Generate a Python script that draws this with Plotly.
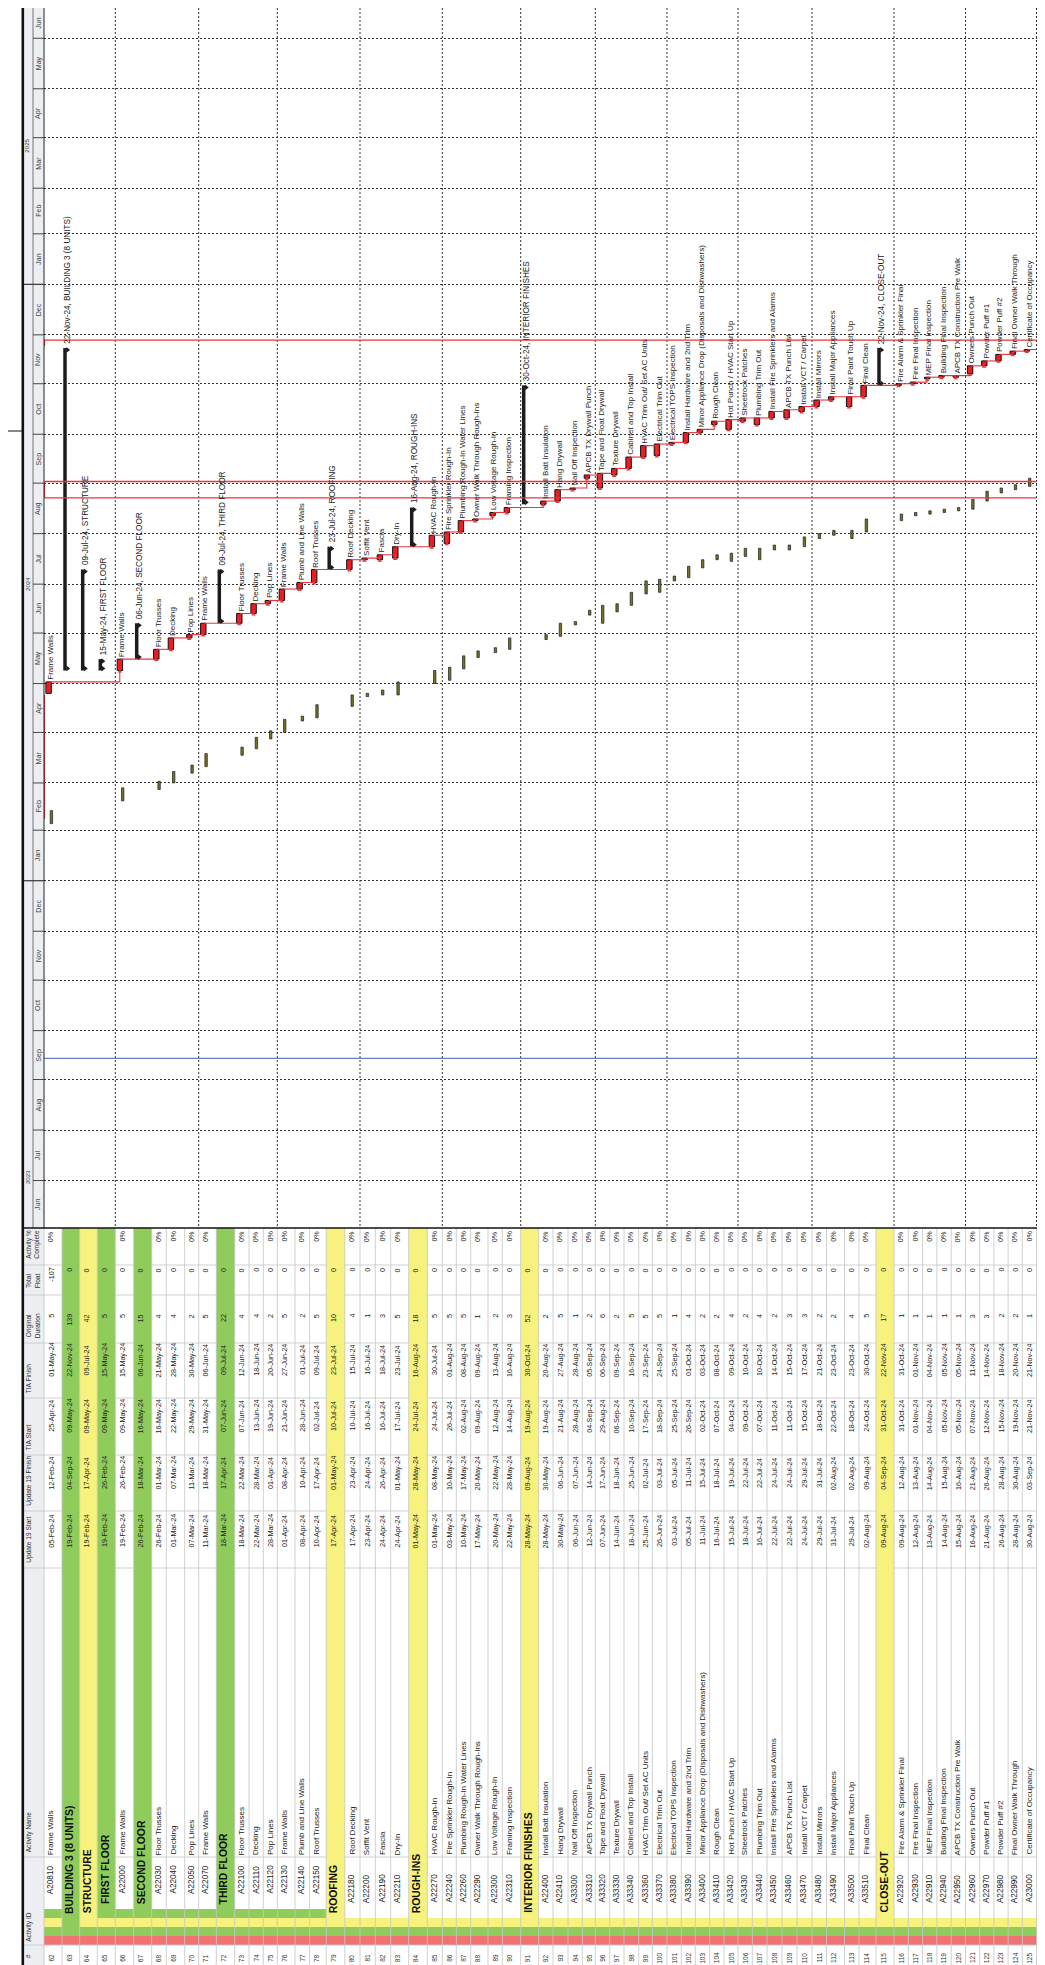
import plotly.graph_objects as go
from datetime import datetime, timedelta

# ------------------------------------------------------------------ data
ROW_NO = [62, 63, 64, 65, 66, 67, 68, 69, 70, 71, 72, 73, 74, 75, 76, 77, 78, 79, 80, 81,
          82, 83, 84, 85, 86, 87, 88, 89, 90, 91, 92, 93, 94, 95, 96, 97, 98, 99, 100, 101,
          102, 103, 104, 105, 106, 107, 108, 109, 110, 111, 112, 113, 114, 115, 116, 117,
          118, 119, 120, 121, 122, 123, 124, 125, 126]

ACT_ID = ["A20810", "", "", "", "A22000", "", "A22030", "A22040", "A22050", "A22070", "",
          "A22100", "A22110", "A22120", "A22130", "A22140", "A22150", "", "A22180", "A22200",
          "A22190", "A22210", "", "A22270", "A22240", "A22260", "A22290", "A22300", "A22310", "",
          "A22400", "A22410", "A33300", "A33310", "A33320", "A33330", "A33340", "A33360",
          "A33370", "A33380", "A33390", "A33400", "A33410", "A33420", "A33430", "A33440",
          "A33450", "A33460", "A33470", "A33480", "A33490", "A33500", "A33510", "", "A22920",
          "A22930", "A22910", "A22940", "A22950", "A22960", "A22970", "A22980", "A22990",
          "A23000", "A23010"]

ACT_NAME = ["Frame Walls", "BUILDING 3 (8 UNITS)", "STRUCTURE", "FIRST FLOOR", "Frame Walls",
            "SECOND FLOOR", "Floor Trusses", "Decking", "Pop Lines", "Frame Walls", "THIRD FLOOR",
            "Floor Trusses", "Decking", "Pop Lines", "Frame Walls", "Plumb and Line Walls",
            "Roof Trusses", "ROOFING", "Roof Decking", "Soffit Vent", "Fascia", "Dry-In",
            "ROUGH-INS", "HVAC Rough-In", "Fire Sprinkler Rough-In", "Plumbing Rough-In Water Lines",
            "Owner Walk Through Rough-Ins", "Low Voltage Rough-In", "Framing Inspection",
            "INTERIOR FINISHES", "Install Batt Insulation", "Hang Drywall", "Nail Off Inspection",
            "APCB TX Drywall Punch", "Tape and Float Drywall", "Texture Drywall",
            "Cabinet and Top Install", "HVAC Trim Out/ Set AC Units", "Electrical Trim Out",
            "Electrical TOPS Inspection", "Install Hardware and 2nd Trim",
            "Minor Appliance Drop (Disposals and Dishwashers)", "Rough Clean",
            "Hot Punch / HVAC Start Up", "Sheetrock Patches", "Plumbing Trim Out",
            "Install Fire Sprinklers and Alarms", "APCB TX Punch List", "Install VCT / Carpet",
            "Install Mirrors", "Install Major Appliances", "Final Paint Touch Up", "Final Clean",
            "CLOSE-OUT", "Fire Alarm & Sprinkler Final", "Fire Final Inspection",
            "MEP Final Inspection", "Building Final Inspection", "APCB TX Construction Pre Walk",
            "Owners Punch Out", "Powder Puff #1", "Powder Puff #2", "Final Owner Walk Through",
            "Certificate of Occupancy", "Owners Acceptance - Building Turnover"]

U19_START = ["05-Feb-24", "19-Feb-24", "19-Feb-24", "19-Feb-24", "19-Feb-24", "26-Feb-24",
             "26-Feb-24", "01-Mar-24", "07-Mar-24", "11-Mar-24", "18-Mar-24", "18-Mar-24",
             "22-Mar-24", "28-Mar-24", "01-Apr-24", "08-Apr-24", "10-Apr-24", "17-Apr-24",
             "17-Apr-24", "23-Apr-24", "24-Apr-24", "24-Apr-24", "01-May-24", "01-May-24",
             "03-May-24", "10-May-24", "17-May-24", "20-May-24", "22-May-24", "28-May-24",
             "28-May-24", "30-May-24", "06-Jun-24", "12-Jun-24", "07-Jun-24", "14-Jun-24",
             "18-Jun-24", "25-Jun-24", "26-Jun-24", "03-Jul-24", "05-Jul-24", "11-Jul-24",
             "16-Jul-24", "15-Jul-24", "18-Jul-24", "16-Jul-24", "22-Jul-24", "22-Jul-24",
             "24-Jul-24", "29-Jul-24", "31-Jul-24", "29-Jul-24", "02-Aug-24", "09-Aug-24",
             "09-Aug-24", "12-Aug-24", "13-Aug-24", "14-Aug-24", "15-Aug-24", "16-Aug-24",
             "21-Aug-24", "26-Aug-24", "28-Aug-24", "30-Aug-24", "03-Sep-24"]

U19_FINISH = ["12-Feb-24", "04-Sep-24", "17-Apr-24", "26-Feb-24", "26-Feb-24", "18-Mar-24",
              "01-Mar-24", "07-Mar-24", "11-Mar-24", "18-Mar-24", "17-Apr-24", "22-Mar-24",
              "28-Mar-24", "01-Apr-24", "08-Apr-24", "10-Apr-24", "17-Apr-24", "01-May-24",
              "23-Apr-24", "24-Apr-24", "26-Apr-24", "01-May-24", "28-May-24", "08-May-24",
              "10-May-24", "17-May-24", "20-May-24", "22-May-24", "28-May-24", "09-Aug-24",
              "30-May-24", "06-Jun-24", "07-Jun-24", "14-Jun-24", "17-Jun-24", "18-Jun-24",
              "25-Jun-24", "02-Jul-24", "03-Jul-24", "05-Jul-24", "11-Jul-24", "15-Jul-24",
              "18-Jul-24", "19-Jul-24", "22-Jul-24", "22-Jul-24", "24-Jul-24", "24-Jul-24",
              "29-Jul-24", "31-Jul-24", "02-Aug-24", "02-Aug-24", "09-Aug-24", "04-Sep-24",
              "12-Aug-24", "13-Aug-24", "14-Aug-24", "15-Aug-24", "16-Aug-24", "21-Aug-24",
              "26-Aug-24", "28-Aug-24", "30-Aug-24", "03-Sep-24", "04-Sep-24"]

TIA_START = ["25-Apr-24", "09-May-24", "09-May-24", "09-May-24", "09-May-24", "16-May-24",
             "16-May-24", "22-May-24", "29-May-24", "31-May-24", "07-Jun-24", "07-Jun-24",
             "13-Jun-24", "19-Jun-24", "21-Jun-24", "28-Jun-24", "02-Jul-24", "10-Jul-24",
             "10-Jul-24", "16-Jul-24", "16-Jul-24", "17-Jul-24", "24-Jul-24", "24-Jul-24",
             "26-Jul-24", "02-Aug-24", "09-Aug-24", "12-Aug-24", "14-Aug-24", "19-Aug-24",
             "19-Aug-24", "21-Aug-24", "28-Aug-24", "04-Sep-24", "29-Aug-24", "06-Sep-24",
             "10-Sep-24", "17-Sep-24", "18-Sep-24", "25-Sep-24", "26-Sep-24", "02-Oct-24",
             "07-Oct-24", "04-Oct-24", "09-Oct-24", "07-Oct-24", "11-Oct-24", "11-Oct-24",
             "15-Oct-24", "18-Oct-24", "22-Oct-24", "18-Oct-24", "24-Oct-24", "31-Oct-24",
             "31-Oct-24", "01-Nov-24", "04-Nov-24", "05-Nov-24", "05-Nov-24", "07-Nov-24",
             "12-Nov-24", "15-Nov-24", "19-Nov-24", "21-Nov-24", "22-Nov-24"]

TIA_FINISH = ["01-May-24", "22-Nov-24", "09-Jul-24", "15-May-24", "15-May-24", "06-Jun-24",
              "21-May-24", "28-May-24", "30-May-24", "06-Jun-24", "09-Jul-24", "12-Jun-24",
              "18-Jun-24", "20-Jun-24", "27-Jun-24", "01-Jul-24", "09-Jul-24", "23-Jul-24",
              "15-Jul-24", "16-Jul-24", "18-Jul-24", "23-Jul-24", "16-Aug-24", "30-Jul-24",
              "01-Aug-24", "08-Aug-24", "09-Aug-24", "13-Aug-24", "16-Aug-24", "30-Oct-24",
              "20-Aug-24", "27-Aug-24", "28-Aug-24", "05-Sep-24", "06-Sep-24", "09-Sep-24",
              "16-Sep-24", "23-Sep-24", "24-Sep-24", "25-Sep-24", "01-Oct-24", "03-Oct-24",
              "08-Oct-24", "09-Oct-24", "10-Oct-24", "10-Oct-24", "14-Oct-24", "15-Oct-24",
              "17-Oct-24", "21-Oct-24", "23-Oct-24", "23-Oct-24", "30-Oct-24", "22-Nov-24",
              "31-Oct-24", "01-Nov-24", "04-Nov-24", "05-Nov-24", "05-Nov-24", "11-Nov-24",
              "14-Nov-24", "18-Nov-24", "20-Nov-24", "21-Nov-24", "22-Nov-24"]

ORIG_DUR = [5, 139, 42, 5, 5, 15, 4, 4, 2, 5, 22, 4, 4, 2, 5, 2, 5, 10, 4, 1, 3, 5, 18, 5, 5, 5,
            1, 2, 3, 52, 2, 5, 1, 2, 6, 2, 5, 5, 5, 1, 4, 2, 2, 4, 2, 4, 2, 3, 3, 2, 2, 4, 5, 17,
            1, 1, 1, 1, 1, 3, 3, 2, 2, 1, 1]

TOTAL_FLOAT = [-107] + [0] * 64

IS_BAND = [False, True, True, True, False, True, False, False, False, False, True, False, False,
           False, False, False, False, True, False, False, False, False, True, False, False,
           False, False, False, False, True, False, False, False, False, False, False, False,
           False, False, False, False, False, False, False, False, False, False, False, False,
           False, False, False, False, True, False, False, False, False, False, False, False,
           False, False, False, False]

WBS_DEPTH = [4, 1, 2, 3, 4, 3, 4, 4, 4, 4, 3, 4, 4, 4, 4, 4, 4, 2, 3, 3, 3, 3, 2, 3, 3, 3, 3, 3,
             3, 2, 3, 3, 3, 3, 3, 3, 3, 3, 3, 3, 3, 3, 3, 3, 3, 3, 3, 3, 3, 3, 3, 3, 3, 2, 3, 3,
             3, 3, 3, 3, 3, 3, 3, 3, 3]

PCT_COMPLETE = ["" if b else "0%" for b in IS_BAND]

MONTH_LABELS = ["Jun", "Jul", "Aug", "Sep", "Oct", "Nov", "Dec", "Jan", "Feb", "Mar", "Apr",
                "May", "Jun", "Jul", "Aug", "Sep", "Oct", "Nov", "Dec", "Jan", "Feb", "Mar",
                "Apr", "May", "Jun"]
YEAR_LABELS = ["2023", "2024", "2025"]

COL_HEADERS = ["#", "Activity ID", "Activity Name", "Update 19 Start", "Update 19 Finish",
               "TIA Start", "TIA Finish", "Original<br>Duration", "Total<br>Float",
               "Activity %<br>Complete"]

# ------------------------------------------------------------------ layout constants
W, H = 1045, 1965
GANTT_BOTTOM = 1220          # px, bottom of the gantt area / top of the table
X0 = 36.0                    # px, first row edge
RIGHT = 1043.0
DATE_RANGE = ["2023-06-01 21:00", "2025-06-19 14:00"]
FIRST_MONTH = datetime(2023, 6, 1)
YEAR_LABEL_AT = ["2023-07-03", "2024-07-01", "2025-03-27"]
BLUE_LINE_AT = "2023-09-14"

ROW_H = [18, 17.7, 17.6, 18, 18.4, 18, 14.6, 18.4, 14, 17.6,
         18.4, 14.3, 14.3, 14, 17.7, 14.6, 16.6, 18.6, 15.2, 15.3,
         15.4, 18, 18.6, 15, 14, 14.4, 17.3, 14.3, 18.4, 18,
         14.3, 15, 14.3, 13, 14.4, 14.3, 14.7, 13.6, 14.7, 14.3,
         14, 14.4, 14.3, 14, 14.3, 14.7, 15, 15, 15, 14.5,
         18, 14.5, 17, 18, 14.3, 14.3, 14.3, 14.3, 14.3, 14.2,
         14.2, 14.2, 14.2, 14.2, 14.5]

# table column edges (px, from top of table)
COL_SEP = [1257, 1287, 1335, 1390, 1447, 1503, 1560, 1849, 1937]
HEADER_BOTTOM = [None, 1935, 1845, 1556, 1499, 1443, 1386, 1331, 1281, 1252]
BAND_TEXT_BOTTOM = {1: 1907, 2: 1906, 3: 1897}

RED = "#ee1c24"
RED_LINK = "#e8343a"
OLIVE = "#77732a"
GREEN = "#90cc5c"
YELLOW = "#f7f17e"
STRIPE_RED = "#f07272"
LEVEL_COLORS = [STRIPE_RED, GREEN, YELLOW, GREEN]
HEAD_BG = "#eceef1"
GRID_GRAY = "#c4c4c4"
FONT = "Liberation Sans, Arial, sans-serif"

N = len(ROW_NO)


def d(s):
    return datetime.strptime(s, "%d-%b-%y")


def iso(dt):
    return dt.strftime("%Y-%m-%d %H:%M")


def py(ypx):
    return 1 - ypx / H


row_x0 = []
acc = X0
for h in ROW_H:
    row_x0.append(acc)
    acc += h
row_x1 = [a + h for a, h in zip(row_x0, ROW_H)]
row_xt = [a + min(h / 2, 6.7) for a, h in zip(row_x0, ROW_H)]   # text line inside a row

DAY = timedelta(days=1)

act_idx = [i for i in range(N) if not IS_BAND[i]]
band_idx = [i for i in range(N) if IS_BAND[i]]

fig = go.Figure()

# ------------------------------------------------------------------ links (logic lines)
lx, ly, ax_, ay_ = [], [], [], []
for a, b in zip(act_idx[:-1], act_idx[1:]):
    p_end = d(TIA_FINISH[a]) + DAY
    s_st = d(TIA_START[b])
    xp = row_x0[a] + 5.5
    xs = row_x0[b] + 4.5
    lx += [xp, xs, xs, None]
    ly += [iso(p_end), iso(p_end), iso(s_st), None]
    ax_.append(xs)
    ay_.append(iso(s_st - timedelta(hours=14)))
fig.add_trace(go.Scatter(x=lx, y=ly, mode="lines", line=dict(color=RED_LINK, width=1.1),
                         hoverinfo="skip"))
fig.add_trace(go.Scatter(x=ax_, y=ay_, mode="markers",
                         marker=dict(symbol="triangle-up", size=4, color=RED_LINK),
                         hoverinfo="skip"))

# off-page links
fig.add_trace(go.Scatter(
    x=[X0 + 0.5, X0 + 0.5, None, X0 + 0.5, W, None, X0 + 0.5, W, None, X0 + 0.5, X0 + 0.5, None,
       X0 + 0.5, X0 + 0.5, W],
    y=["2024-02-08", "2024-04-24", None, "2024-08-23", "2024-08-23", None, "2024-09-02",
       "2024-09-02", None, "2024-08-23", "2024-09-02", None, "2024-11-24", "2024-11-27 18:00",
       "2024-11-27 18:00"],
    mode="lines", line=dict(color=RED_LINK, width=1.3), hoverinfo="skip"))

# ------------------------------------------------------------------ bars
fig.add_trace(go.Bar(
    x=[row_x0[i] + 7.4 for i in act_idx],
    base=[iso(d(U19_START[i])) for i in act_idx],
    y=[((d(U19_FINISH[i]) + DAY) - d(U19_START[i])).total_seconds() * 1000 for i in act_idx],
    width=2.4, marker=dict(color=OLIVE, line=dict(color="#1a1a1a", width=0.7)),
    hoverinfo="skip"))

fig.add_trace(go.Bar(
    x=[row_x0[i] + 4.6 for i in act_idx],
    base=[iso(d(TIA_START[i])) for i in act_idx],
    y=[((d(TIA_FINISH[i]) + DAY) - d(TIA_START[i])).total_seconds() * 1000 for i in act_idx],
    width=5.4, marker=dict(color=RED, line=dict(color="#111111", width=1)),
    hoverinfo="skip"))

fig.add_trace(go.Bar(
    x=[row_x0[i] + 3.0 for i in band_idx],
    base=[iso(d(TIA_START[i])) for i in band_idx],
    y=[((d(TIA_FINISH[i]) + DAY) - d(TIA_START[i])).total_seconds() * 1000 for i in band_idx],
    width=3.5, marker=dict(color="#1c1c1c", line=dict(width=0)), hoverinfo="skip"))

tx, ty = [], []
for i in band_idx:
    tx += [row_x0[i] + 5.6, row_x0[i] + 5.6]
    ty += [iso(d(TIA_START[i]) + timedelta(hours=30)), iso(d(TIA_FINISH[i]) + timedelta(hours=-6))]
fig.add_trace(go.Scatter(x=tx, y=ty, mode="markers",
                         marker=dict(symbol="triangle-right", size=5, color="#1c1c1c"),
                         hoverinfo="skip"))

# ------------------------------------------------------------------ shapes
shapes = []


def rect(x0, x1, y0, y1, fill, layer="above"):
    shapes.append(dict(type="rect", xref="x", yref="paper", x0=x0, x1=x1, y0=py(y0), y1=py(y1),
                       fillcolor=fill, line=dict(width=0), layer=layer))


def hline(x0, x1, ypx, color, width=1, dash=None, layer="above"):
    ln = dict(color=color, width=width)
    if dash:
        ln["dash"] = dash
    shapes.append(dict(type="line", xref="x", yref="paper", x0=x0, x1=x1, y0=py(ypx),
                       y1=py(ypx), line=ln, layer=layer))


def vline(x, y0, y1, color, width=1, dash=None, layer="above"):
    ln = dict(color=color, width=width)
    if dash:
        ln["dash"] = dash
    shapes.append(dict(type="line", xref="x", yref="paper", x0=x, x1=x, y0=py(y0), y1=py(y1),
                       line=ln, layer=layer))


# row group gridlines (every 5 rows)
for i in range(N):
    if (ROW_NO[i] - 61) % 5 == 0:
        vline(row_x0[i], 0, GANTT_BOTTOM, "#333333", 1, dash="2px,2px", layer="below")

# blue line
shapes.append(dict(type="line", xref="x", yref="y", x0=X0, x1=RIGHT, y0=BLUE_LINE_AT,
                   y1=BLUE_LINE_AT, line=dict(color="#6283c0", width=1.3), layer="below"))

# left blank margin and timeline header
rect(0, 14, 0, H, "white")
rect(14, X0, 0, GANTT_BOTTOM, HEAD_BG)
vline(25, 0, GANTT_BOTTOM, "#555555", 0.8)
vline(X0, 0, GANTT_BOTTOM, "#222222", 1)

month_starts = []
m = FIRST_MONTH
for _ in range(len(MONTH_LABELS) + 1):
    month_starts.append(m)
    m = datetime(m.year + (m.month // 12), m.month % 12 + 1, 1)

for ms in month_starts[1:-1]:
    width = 1.2 if ms.month == 1 else 0.9
    x0 = 14 if ms.month == 1 else 25
    shapes.append(dict(type="line", xref="x", yref="y", x0=x0, x1=X0, y0=iso(ms), y1=iso(ms),
                       line=dict(color="#333333", width=width), layer="above"))

# table header column
rect(14, X0, GANTT_BOTTOM, 1963, HEAD_BG)

# band rows and WBS stripes
for i in range(N):
    dep = WBS_DEPTH[i]
    for lvl in range(dep):
        rect(row_x0[i], row_x1[i], 1937 - 9 * (lvl + 1), 1937 - 9 * lvl, LEVEL_COLORS[lvl])
    if IS_BAND[i]:
        rect(row_x0[i], row_x1[i], GANTT_BOTTOM, 1937 - 9 * dep, LEVEL_COLORS[dep])

# table grid lines
for ysep in COL_SEP:
    for i in range(N):
        if IS_BAND[i] and ysep < 1937 - 9 * WBS_DEPTH[i]:
            continue
        hline(row_x0[i], row_x1[i], ysep, GRID_GRAY, 0.8)
for i in range(N):
    vline(row_x0[i], GANTT_BOTTOM, 1963, GRID_GRAY, 0.8)
for ysep in COL_SEP:
    hline(14, X0, ysep, GRID_GRAY, 0.8)

hline(14, RIGHT, GANTT_BOTTOM, "#111111", 1.6)
hline(0, W, 1963, "#111111", 1.4)
vline(14.8, 0, 1963, "#111111", 2.6)
vline(RIGHT, 0, 1963, "#111111", 1.6)
hline(0, 14, 423, "#111111", 1)

fig.update_layout(shapes=shapes)

# ------------------------------------------------------------------ annotations
ann = []


def text(x, y, s, size=7.2, yref="paper", yanchor="middle", xanchor="center", color="#222222",
         bold=False, angle=-90):
    if bold:
        s = "<b>" + s + "</b>"
    ann.append(dict(x=x, y=py(y) if yref == "paper" else y, xref="x", yref=yref, text=s,
                    showarrow=False, textangle=angle, xanchor=xanchor, yanchor=yanchor,
                    borderpad=0, font=dict(family=FONT, size=size, color=color)))


# month labels
lo = datetime.strptime(DATE_RANGE[0], "%Y-%m-%d %H:%M")
hi = datetime.strptime(DATE_RANGE[1], "%Y-%m-%d %H:%M")
for lab, a, b in zip(MONTH_LABELS, month_starts[:-1], month_starts[1:]):
    a2, b2 = max(a, lo), min(b, hi)
    mid = a2 + (b2 - a2) / 2
    text(30.7, iso(mid), lab, size=7.1, yref="y", color="#444444")
for lab, at in zip(YEAR_LABELS, YEAR_LABEL_AT):
    text(18.8, at, lab, size=6.1, yref="y", color="#444444")

# table headers
for k, lab in enumerate(COL_HEADERS):
    if k == 0:
        text(15.8, 1948, lab, size=6.5, xanchor="left", color="#333333")
    else:
        text(15.8, HEADER_BOTTOM[k], lab, size=6.6, yanchor="bottom", xanchor="left",
             color="#333333")

# table body
for i in range(N):
    xt = row_xt[i]
    text(row_x0[i] + 2.0, 1950, str(ROW_NO[i]), size=6.5, xanchor="left", color="#333333")
    dep = WBS_DEPTH[i]
    if IS_BAND[i]:
        text(row_x0[i] + 7.6, BAND_TEXT_BOTTOM[dep], ACT_NAME[i], size=10.4, yanchor="bottom",
             bold=True, color="#111111")
    else:
        text(row_x0[i] + 1.2, 1937 - 9 * dep - 14, ACT_ID[i], size=8.2, yanchor="bottom",
             xanchor="left")
        text(row_x0[i] + 1.2, 1848, ACT_NAME[i], size=8.0, yanchor="bottom", xanchor="left")
    text(xt, 1523, U19_START[i], size=7.2)
    text(xt, 1465, U19_FINISH[i], size=7.2)
    text(xt, 1408, TIA_START[i], size=7.2)
    text(xt, 1352, TIA_FINISH[i], size=7.2)
    text(xt, 1305, str(ORIG_DUR[i]), size=7.2, yanchor="top")
    text(xt, 1259, str(TOTAL_FLOAT[i]), size=7.2, yanchor="top")
    if PCT_COMPLETE[i]:
        text(xt, 1222, PCT_COMPLETE[i], size=7.2, yanchor="top")

# gantt labels
for i in range(N):
    top = d(TIA_FINISH[i]) + DAY
    if IS_BAND[i]:
        lab = TIA_FINISH[i] + ", " + ACT_NAME[i]
        ann.append(dict(x=row_x0[i] + 5.8, y=iso(top), xref="x", yref="y", text=lab,
                        showarrow=False, textangle=-90, xanchor="center", yanchor="bottom",
                        yshift=3, borderpad=0, font=dict(family=FONT, size=8.2, color="#222222")))
    else:
        ann.append(dict(x=row_x0[i] + 6.3, y=iso(top), xref="x", yref="y", text=ACT_NAME[i],
                        showarrow=False, textangle=-90, xanchor="center", yanchor="bottom",
                        yshift=1, borderpad=0, font=dict(family=FONT, size=8.0, color="#222222")))

fig.update_layout(annotations=ann)

fig.update_layout(
    width=W, height=H, margin=dict(l=0, r=0, t=0, b=0),
    paper_bgcolor="white", plot_bgcolor="white", showlegend=False, barmode="overlay",
    hovermode=False, dragmode=False,
    xaxis=dict(range=[0, W], visible=False, fixedrange=True),
    yaxis=dict(type="date", range=DATE_RANGE, domain=[1 - GANTT_BOTTOM / H, 1],
               showgrid=True, gridcolor="#333333", griddash="2px,2px", gridwidth=1,
               dtick="M1", tick0="2023-06-01", showticklabels=False, ticks="",
               zeroline=False, showline=False, fixedrange=True),
)

fig.write_html("out.html", config={"staticPlot": True, "displayModeBar": False})
